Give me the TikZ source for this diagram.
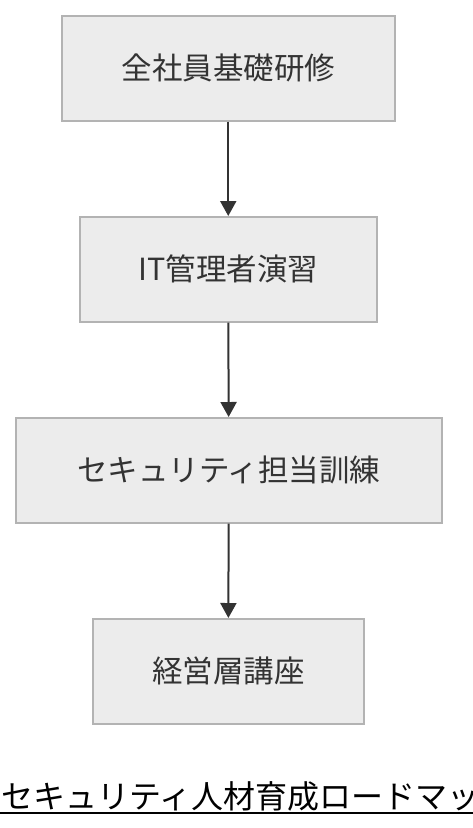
\documentclass[tikz,border=0pt]{standalone}
\usepackage{fontspec}
\setmainfont{Noto Sans CJK JP}
\usetikzlibrary{arrows.meta}
\definecolor{boxfill}{HTML}{ECECEC}
\definecolor{boxline}{HTML}{B3B3B3}
\definecolor{txt}{HTML}{333333}
\begin{document}
\begin{tikzpicture}[x=1pt,y=-1pt,
  stage/.style={draw=boxline,fill=boxfill,line width=1.5pt,text=txt,font=\fontsize{30.5}{36}\selectfont,inner sep=0pt,anchor=north west},
  conn/.style={draw=txt,line width=2pt,-{Triangle[length=15pt,width=16pt]}}]
\useasboundingbox (0,0) rectangle (472,828);
\fill[white] (0,0) rectangle (472,828);
\node[stage,minimum width=333pt,minimum height=105pt] (a) at (61,15) {全社員基礎研修};
\node[stage,minimum width=297pt,minimum height=105pt] (b) at (79,216) {IT管理者演習};
\node[stage,minimum width=426pt,minimum height=105pt] (c) at (15,417) {セキュリティ担当訓練};
\node[stage,minimum width=271pt,minimum height=105pt] (d) at (92,618) {経営層講座};
\draw[conn] (a) -- (b);
\draw[conn] (b) -- (c);
\draw[conn] (c) -- (d);
\node[anchor=base west,inner sep=0pt,font=\fontsize{32}{36}\selectfont,text=black] (t) at (1,808) {セキュリティ人材育成ロードマップ};
\coordinate (u1) at (0,813);
\coordinate (u2) at (540,813);
\draw[line width=2pt,black] (u1) -- (u2);
\end{tikzpicture}
\end{document}
